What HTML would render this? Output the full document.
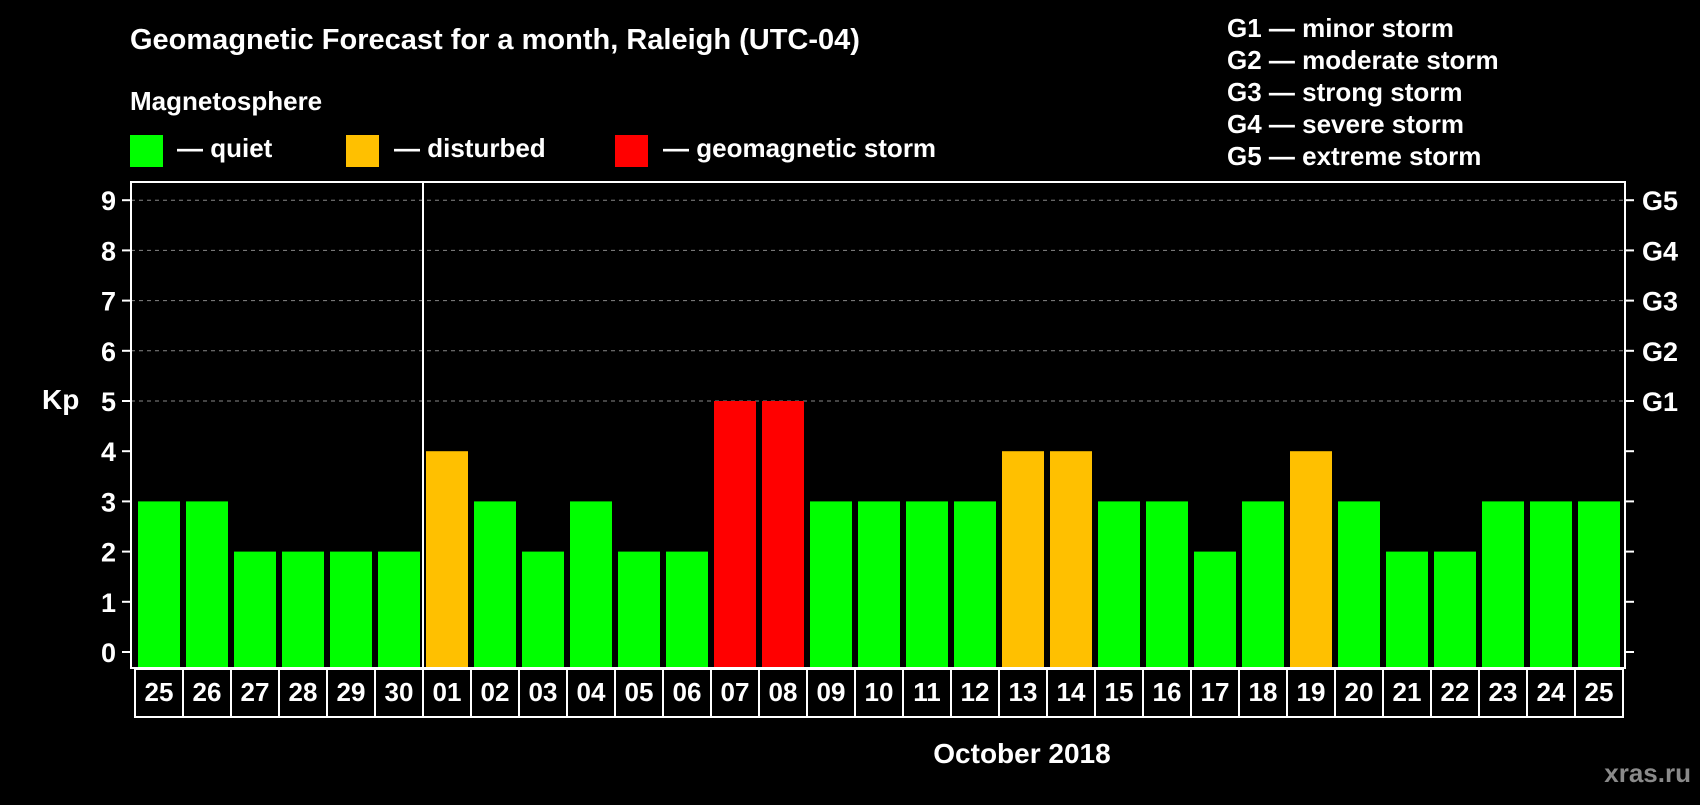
<!DOCTYPE html>
<html><head><meta charset="utf-8"><style>
body{margin:0;background:#000;width:1700px;height:800px;overflow:hidden;font-family:"Liberation Sans",Arial,sans-serif;}
svg text{font-family:"Liberation Sans",Arial,sans-serif;font-weight:bold;fill:#fff;}
</style></head><body>
<svg id="chart" width="1700" height="800" xmlns="http://www.w3.org/2000/svg">
<rect width="1700" height="800" fill="#000"/>
<text x="130" y="49" font-size="29">Geomagnetic Forecast for a month, Raleigh (UTC-04)</text>
<text x="130" y="110" font-size="26">Magnetosphere</text>
<g><rect x="130" y="135" width="33" height="32" fill="#00ff00"/><text x="177" y="157" font-size="26">— quiet</text></g>
<g><rect x="346" y="135" width="33" height="32" fill="#ffc000"/><text x="394" y="157" font-size="26">— disturbed</text></g>
<g><rect x="615" y="135" width="33" height="32" fill="#ff0000"/><text x="663" y="157" font-size="26">— geomagnetic storm</text></g>
<g font-size="26">
<text x="1227" y="37">G1 — minor storm</text>
<text x="1227" y="69">G2 — moderate storm</text>
<text x="1227" y="101">G3 — strong storm</text>
<text x="1227" y="133">G4 — severe storm</text>
<text x="1227" y="165">G5 — extreme storm</text>
</g>
<text x="42" y="409" font-size="28">Kp</text>
<text x="1022" y="763" font-size="28" text-anchor="middle">October 2018</text>
<text x="1691" y="782" font-size="26" text-anchor="end" style="fill:#8a8a8a">xras.ru</text>
<g id="grid"></g><g id="bars"></g><g id="axes"></g>
</svg>
<script>
const dayLabels=["25","26","27","28","29","30","01","02","03","04","05","06","07","08","09","10","11","12","13","14","15","16","17","18","19","20","21","22","23","24","25"];
const kpValues=[3,3,2,2,2,2,4,3,2,3,2,2,5,5,3,3,3,3,4,4,3,3,2,3,4,3,2,2,3,3,3];
const yTicks=[0,1,2,3,4,5,6,7,8,9];
const gLabels=["G1","G2","G3","G4","G5"];
const NS="http://www.w3.org/2000/svg";
const L=131,R=1625,T=182,B=668,Y0=652,UNIT=50.2,X0=138,PITCH=48,BW=42;
const y=v=>Y0-v*UNIT;
const x=i=>X0+i*PITCH;
function mk(tag,attrs,parent){const e=document.createElementNS(NS,tag);for(const k in attrs)e.setAttribute(k,attrs[k]);parent.appendChild(e);return e;}
const grid=document.getElementById('grid'),bars=document.getElementById('bars'),axes=document.getElementById('axes');
yTicks.forEach(v=>{
 if(v>=5){const g=mk('line',{x1:L,x2:R,y1:y(v),y2:y(v),stroke:'#888','stroke-dasharray':'4,4','stroke-width':1},grid);
 
 }
 const t1=mk('line',{x1:L-9,x2:L,y1:y(v),y2:y(v),stroke:'#fff','stroke-width':2},axes);
 
 
 const t2=mk('line',{x1:R,x2:R+9,y1:y(v),y2:y(v),stroke:'#fff','stroke-width':2},axes);
 
 
 const lb=mk('text',{x:L-15,y:y(v)+10,'font-size':27,'text-anchor':'end'},axes);lb.textContent=v;
 
 
});
gLabels.forEach((g,i)=>{const t=mk('text',{x:1642,y:y(5+i)+10,'font-size':27},axes);t.textContent=g;
 
 });
kpValues.forEach((v,i)=>{
 const c=v>=5?'#ff0000':(v>=4?'#ffc000':'#00ff00');
 const r=mk('rect',{x:x(i),y:y(v),width:BW,height:B-y(v),fill:c},bars);
 
 
 const cell=mk('rect',{x:x(i)-3,y:B+1,width:PITCH,height:48,fill:'none',stroke:'#fff','stroke-width':2},axes);
 
 
 const t=mk('text',{x:x(i)+BW/2,y:B+33,'font-size':26,'text-anchor':'middle'},axes);t.textContent=dayLabels[i];
 
 
});
const f=mk('rect',{x:L,y:T,width:R-L,height:B-T,fill:'none',stroke:'#fff','stroke-width':2},axes);


const mi=dayLabels.indexOf("01");
const sep=mk('line',{x1:x(mi)-3,x2:x(mi)-3,y1:T,y2:B,stroke:'#fff','stroke-width':2},axes);


</script>
</body></html>
